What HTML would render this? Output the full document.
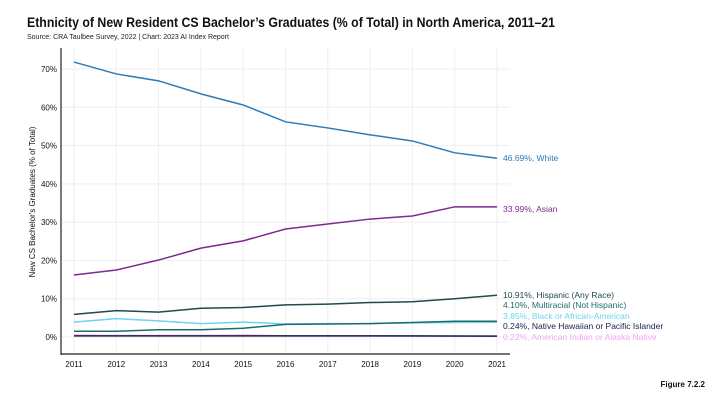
<!DOCTYPE html>
<html><head><meta charset="utf-8"><style>
body{margin:0;background:#fff;width:722px;height:403px;overflow:hidden;font-family:"Liberation Sans",sans-serif}
</style></head><body>
<svg width="722" height="403" xmlns="http://www.w3.org/2000/svg" style="font-family:'Liberation Sans',sans-serif">
<text x="27" y="27" font-size="13.5" font-weight="bold" fill="#111" textLength="528" lengthAdjust="spacingAndGlyphs">Ethnicity of New Resident CS Bachelor’s Graduates (% of Total) in North America, 2011–21</text>
<text x="27" y="39" font-size="7" fill="#222">Source: CRA Taulbee Survey, 2022 | Chart: 2023 AI Index Report</text>
<text transform="translate(35,202) rotate(-90)" text-anchor="middle" font-size="8" fill="#111">New CS Bachelor's Graduates (% of Total)</text>
<text x="705" y="387" text-anchor="end" font-size="8" font-weight="bold" fill="#111">Figure 7.2.2</text>
<g id="grid"></g><g id="axes"></g><g id="series"></g>
</svg>
<script>
const years=[2011,2012,2013,2014,2015,2016,2017,2018,2019,2020,2021];
const yTicks=[0,10,20,30,40,50,60,70];
const white=[71.8,68.7,66.9,63.5,60.6,56.2,54.6,52.8,51.2,48.1,46.69];
const asian=[16.2,17.5,20.1,23.2,25.1,28.2,29.5,30.8,31.6,34.0,33.99];
const hispanic=[5.9,6.9,6.5,7.5,7.7,8.4,8.6,9.0,9.2,10.0,10.91];
const multiracial=[1.5,1.5,1.9,1.9,2.3,3.3,3.4,3.5,3.8,4.1,4.10];
const black=[3.9,4.8,4.2,3.5,3.9,3.4,3.5,3.5,3.7,3.8,3.85];
const hawaiian=[0.3,0.3,0.3,0.3,0.3,0.3,0.3,0.3,0.3,0.25,0.24];
const amindian=[0.5,0.4,0.4,0.4,0.5,0.3,0.3,0.3,0.2,0.2,0.22];
const seriesNames=['white','asian','hispanic','multiracial','black','hawaiian','amindian'];
const labels=['46.69%, White','33.99%, Asian','10.91%, Hispanic (Any Race)','4.10%, Multiracial (Not Hispanic)','3.85%, Black or African-American','0.24%, Native Hawaiian or Pacific Islander','0.22%, American Indian or Alaska Native'];
const NS='http://www.w3.org/2000/svg';
const X=y=>74+(y-2011)*42.3;
const Y=v=>337-v*3.829;
function mk(t,a,p){const e=document.createElementNS(NS,t);for(const k in a)e.setAttribute(k,a[k]);p.appendChild(e);return e;}
const grid=document.getElementById('grid'),axes=document.getElementById('axes'),ser=document.getElementById('series');
years.forEach(y=>{
 const l=mk('line',{x1:X(y),x2:X(y),y1:48,y2:354,stroke:'#eee','stroke-width':1},grid);
 
 
 const t=mk('text',{x:X(y),y:367,'text-anchor':'middle','font-size':8,fill:'#111'},axes);t.textContent=y;
 
 
});
yTicks.forEach(v=>{
 const l=mk('line',{x1:62,x2:510,y1:Y(v),y2:Y(v),stroke:'#eee','stroke-width':1},grid);
 
 
 const t=mk('text',{x:57,y:Y(v)+3,'text-anchor':'end','font-size':8,fill:'#111'},axes);t.textContent=v+'%';
 
 
});
const ya=mk('line',{x1:61,x2:61,y1:48,y2:355,stroke:'#222','stroke-width':1.2},axes);


const xa=mk('line',{x1:61,x2:510,y1:354,y2:354,stroke:'#222','stroke-width':1.2},axes);


const data=[white,asian,hispanic,multiracial,black,hawaiian,amindian];
const colors=['#2b7bba','#7b2a8e','#1f4a50','#1d6c6c','#6fd3f2','#1b1f4d','#f0a6f0'];
const labelY=[158,209,295,305,316,326,337];
const order=[6,4,3,2,5,1,0];
order.forEach(i=>{
 const d=data[i];
 const p=mk('polyline',{points:d.map((v,j)=>X(years[j])+','+Y(v)).join(' '),fill:'none',stroke:colors[i],'stroke-width':1.5},ser);
 
 
 const t=mk('text',{x:503,y:labelY[i]+3,'font-size':8.5,fill:colors[i]},ser);t.textContent=labels[i];
 
 
});
</script>
</body></html>
